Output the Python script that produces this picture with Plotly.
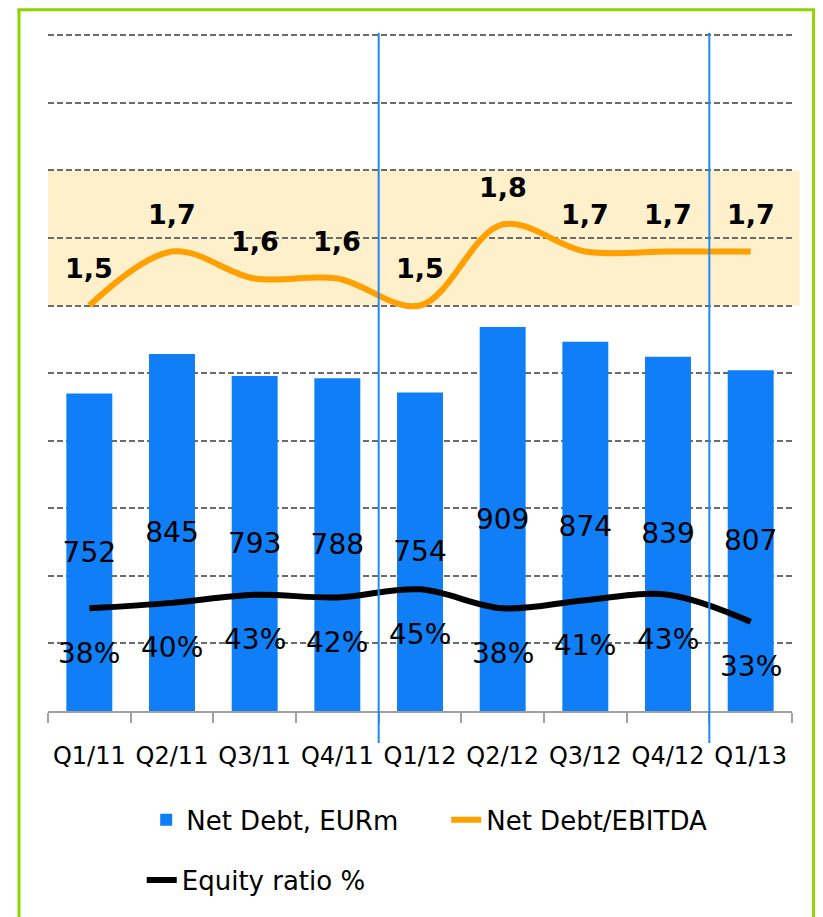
import plotly.graph_objects as go

categories = ["Q1/11", "Q2/11", "Q3/11", "Q4/11", "Q1/12", "Q2/12", "Q3/12", "Q4/12", "Q1/13"]
net_debt = [752, 845, 793, 788, 754, 909, 874, 839, 807]
nd_ebitda = [1.5, 1.7, 1.6, 1.6, 1.5, 1.8, 1.7, 1.7, 1.7]
nd_ebitda_labels = ["1,5", "1,7", "1,6", "1,6", "1,5", "1,8", "1,7", "1,7", "1,7"]
equity_ratio = [0.38, 0.40, 0.43, 0.42, 0.45, 0.38, 0.41, 0.43, 0.33]
equity_labels = ["38%", "40%", "43%", "42%", "45%", "38%", "41%", "43%", "33%"]

FONT = "DejaVu Sans"
BLUE = "#0F7EF7"
ORANGE = "#FFA000"
GREEN = "#8DD400"

fig = go.Figure()

fig.add_trace(go.Bar(
    x=categories, y=net_debt, name="Net Debt, EURm",
    marker=dict(color=BLUE, line=dict(width=0)),
    text=[str(v) for v in net_debt], textposition="inside", textangle=0,
    insidetextanchor="middle", constraintext="none",
    textfont=dict(family=FONT, size=28, color="black"),
    legend="legend", hoverinfo="skip",
))
fig.add_trace(go.Scatter(
    x=categories, y=nd_ebitda, name="Net Debt/EBITDA", yaxis="y2",
    mode="lines", line=dict(color=ORANGE, width=6, shape="spline", smoothing=1),
    legend="legend",
))
fig.add_trace(go.Scatter(
    x=categories, y=equity_ratio, name="Equity ratio %", yaxis="y2",
    mode="lines", line=dict(color="black", width=6, shape="spline", smoothing=1),
    legend="legend2",
))

annotations = []
for c, v, t in zip(categories, nd_ebitda, nd_ebitda_labels):
    annotations.append(dict(x=c, y=v, xref="x", yref="y2", text="<b>%s</b>" % t,
                            showarrow=False, yshift=37,
                            font=dict(family=FONT, size=27, color="black")))
for c, v, t in zip(categories, equity_ratio, equity_labels):
    annotations.append(dict(x=c, y=v, xref="x", yref="y2", text=t,
                            showarrow=False, yshift=-45,
                            font=dict(family=FONT, size=28, color="black")))

shapes = [
    dict(type="rect", xref="paper", yref="y2", x0=0, x1=1.01, y0=1.5, y1=2.0,
         fillcolor="#FFF0CC", line=dict(width=0), layer="below"),
    dict(type="line", xref="x", yref="paper", x0=3.5, x1=3.5, y0=-0.047, y1=0.997,
         line=dict(color="#1E88F5", width=2), layer="above"),
    dict(type="line", xref="x", yref="paper", x0=7.5, x1=7.5, y0=-0.047, y1=0.997,
         line=dict(color="#1E88F5", width=2), layer="above"),
    # outer green frame
    dict(type="line", xref="paper", yref="paper", x0=-0.039, x1=-0.039, y0=1.032, y1=-0.32,
         line=dict(color=GREEN, width=3), layer="above"),
    dict(type="line", xref="paper", yref="paper", x0=1.029, x1=1.029, y0=1.032, y1=-0.32,
         line=dict(color=GREEN, width=3), layer="above"),
    dict(type="line", xref="paper", yref="paper", x0=-0.041, x1=1.031, y0=1.0312, y1=1.0312,
         line=dict(color=GREEN, width=3), layer="above"),
]

fig.update_layout(
    width=823, height=917,
    margin=dict(l=40, r=39, t=23, b=214, autoexpand=False),
    paper_bgcolor="white", plot_bgcolor="white",
    font=dict(family=FONT, color="black"),
    bargap=0.444,
    showlegend=True,
    xaxis=dict(
        type="category", showline=True, linecolor="#a0a0a0", linewidth=2,
        ticks="outside", ticklen=10, tickwidth=2, tickcolor="#a0a0a0",
        tickson="boundaries", showgrid=False, tickangle=0, automargin=False,
        tickfont=dict(family=FONT, size=24, color="black"),
        ticklabelstandoff=22,
    ),
    yaxis=dict(
        range=[0, 1610], tick0=0, dtick=160, showticklabels=False, zeroline=False,
        showgrid=True, gridcolor="#6b6b6b", gridwidth=2, griddash="6px,3px",
        automargin=False,
    ),
    yaxis2=dict(range=[0, 2.5 * 1610 / 1600], overlaying="y", visible=False, showgrid=False),
    legend=dict(
        orientation="h", x=0.132, xanchor="left", y=-0.160, yanchor="middle",
        font=dict(family=FONT, size=26, color="black"),
        entrywidth=255, bgcolor="rgba(0,0,0,0)",
    ),
    legend2=dict(
        orientation="h", x=0.126, xanchor="left", y=-0.2485, yanchor="middle",
        font=dict(family=FONT, size=26, color="black"),
        bgcolor="rgba(0,0,0,0)",
    ),
    annotations=annotations,
    shapes=shapes,
)

fig.write_html("out.html")
